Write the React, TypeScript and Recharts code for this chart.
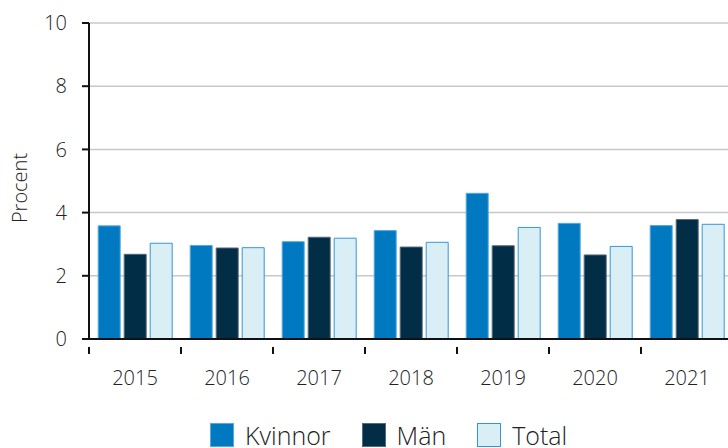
import React from 'react';
import { BarChart, Bar, XAxis, YAxis, CartesianGrid } from 'recharts';

const years = ['2015', '2016', '2017', '2018', '2019', '2020', '2021'];
const kvinnor = [3.58, 2.96, 3.08, 3.43, 4.61, 3.66, 3.59];
const man = [2.68, 2.88, 3.22, 2.91, 2.95, 2.66, 3.78];
const total = [3.03, 2.89, 3.19, 3.06, 3.53, 2.93, 3.63];
const yTicks = [0, 2, 4, 6, 8, 10];

const SERIES = [
    { key: 'Kvinnor', fill: '#0079c1', stroke: '#55a9de' },
    { key: 'Män', fill: '#022d46', stroke: '#566a78' },
    { key: 'Total', fill: '#daeef6', stroke: '#3596d6' },
];

const data = years.map((year, i) => ({
    year,
    Kvinnor: kvinnor[i],
    'Män': man[i],
    Total: total[i],
}));

const FONT = '"Open Sans", sans-serif';
const TEXT = '#222';
const PLOT_LEFT = 89;
const PLOT_WIDTH = 644;
const BAND = PLOT_WIDTH / years.length;

const EdgeTick = (props: any) => {
    const { x, y, payload, index } = props;
    const half = BAND / 2;
    return (
        <g>
            <line x1={x - half} x2={x - half} y1={y} y2={y + 7} stroke="#111" strokeWidth={2} />
            {index === years.length - 1 && (
                <line x1={x + half} x2={x + half} y1={y} y2={y + 7} stroke="#111" strokeWidth={2} />
            )}
            <text x={x} y={y + 38} textAnchor="middle" fontSize={20} fontWeight={300} fill={TEXT} fontFamily={FONT}>
                {payload.value}
            </text>
        </g>
    );
};

export default function App() {
    return (
        <div style={{ position: 'fixed', left: 0, top: 0, width: 728, height: 448, overflow: 'hidden', background: '#fff' }}>
            <BarChart
                width={760}
                height={448}
                data={data}
                margin={{ top: 23, right: 760 - PLOT_LEFT - PLOT_WIDTH, left: 0, bottom: 0 }}
                barCategoryGap="10%"
                barGap={4}
            >
                <CartesianGrid vertical={false} stroke="#c8c8c8" strokeWidth={1.5} />
                <XAxis
                    dataKey="year"
                    height={109}
                    axisLine={{ stroke: '#111', strokeWidth: 2 }}
                    tickLine={false}
                    tick={<EdgeTick />}
                    interval={0}
                />
                <YAxis
                    width={PLOT_LEFT}
                    domain={[0, 10]}
                    ticks={yTicks}
                    interval={0}
                    axisLine={{ stroke: '#111', strokeWidth: 2 }}
                    tickLine={{ stroke: '#111', strokeWidth: 2 }}
                    tickSize={7}
                    tickMargin={15}
                    tick={{ fontSize: 20, fontWeight: 300, fill: TEXT, fontFamily: FONT }}
                    label={{
                        content: ({ viewBox }: any) => {
                            const cy = viewBox.y + viewBox.height / 2 + 7;
                            return (
                                <text
                                    x={27}
                                    y={cy}
                                    transform={`rotate(-90, 27, ${cy})`}
                                    textAnchor="middle"
                                    fontSize={20}
                                    fontWeight={300}
                                    fill={TEXT}
                                    fontFamily={FONT}
                                >
                                    Procent
                                </text>
                            );
                        },
                    }}
                />
                {SERIES.map((s) => (
                    <Bar
                        key={s.key}
                        dataKey={s.key}
                        fill={s.fill}
                        stroke={s.stroke}
                        strokeWidth={1}
                        isAnimationActive={false}
                    />
                ))}
            </BarChart>

            {/* Legend */}
            <div style={{ position: 'absolute', left: 210, top: 423, display: 'flex', gap: 31, fontFamily: FONT }}>
                {SERIES.map((s) => (
                    <div key={s.key} style={{ display: 'flex', alignItems: 'flex-start' }}>
                        <div style={{ width: 22, height: 22, background: s.fill, border: `1px solid ${s.stroke}`, marginRight: 11 }} />
                        <span style={{ fontSize: 25, fontWeight: 300, lineHeight: '25px', color: TEXT }}>{s.key}</span>
                    </div>
                ))}
            </div>
        </div>
    );
}
